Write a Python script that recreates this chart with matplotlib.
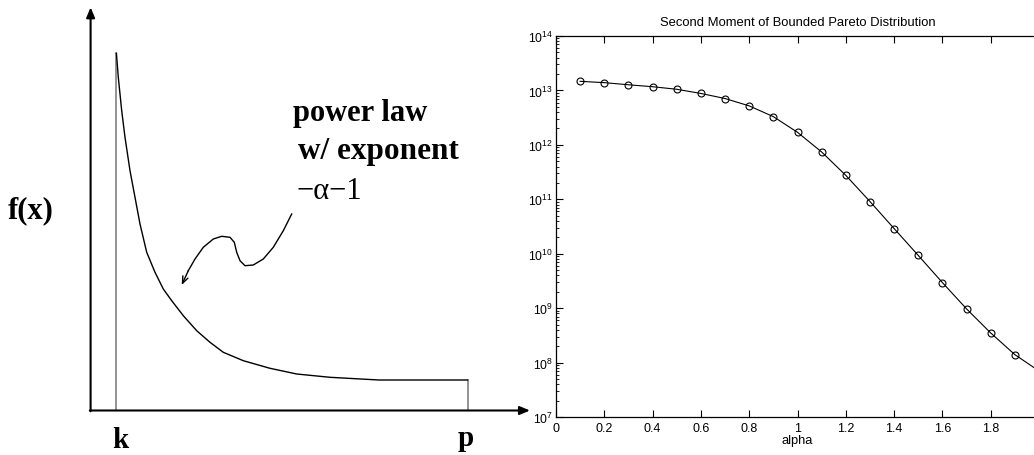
import numpy as np
import matplotlib
matplotlib.use('Agg')
import matplotlib.pyplot as plt
from matplotlib.ticker import FormatStrFormatter, LogLocator, NullFormatter

plt.rcParams['font.family'] = ['Liberation Sans', 'DejaVu Sans']

# ---- data: right panel (second moment vs alpha) ----
alpha = [0.1, 0.2, 0.3, 0.4, 0.5, 0.6, 0.7, 0.8, 0.9, 1.0,
         1.1, 1.2, 1.3, 1.4, 1.5, 1.6, 1.7, 1.8, 1.9, 2.0]
moment = [1.47e13, 1.39e13, 1.27e13, 1.17e13, 1.05e13, 8.8e12, 7.1e12,
          5.2e12, 3.3e12, 1.7e12, 7.4e11, 2.75e11, 9.1e10, 2.9e10,
          9.3e9, 2.95e9, 9.7e8, 3.5e8, 1.4e8, 7.0e7]
alpha_ticks = [0, 0.2, 0.4, 0.6, 0.8, 1.0, 1.2, 1.4, 1.6, 1.8]

# ---- data: left panel sketch (diagram units, y measured downward) ----
k_pos, p_pos = 116.4, 467.6
x_axis_y, y_axis_x = 411.5, 90.6
curve_x = [116.4, 118.3, 121.7, 125.0, 130.0, 135.0, 140.0, 146.7, 155.0,
           163.3, 171.7, 183.3, 196.7, 210.0, 223.3, 243.3, 270.0, 296.7,
           330.0, 378.8, 467.6]
curve_y = [54.3, 78.3, 111.7, 138.3, 171.7, 198.3, 225.0, 253.3, 273.3,
           290.0, 301.7, 316.7, 331.7, 343.3, 353.3, 361.7, 369.3, 375.0,
           378.3, 381.0, 381.0]
squiggle_x = [291.7, 283.3, 273.3, 263.3, 253.3, 245.0, 240.0, 236.7, 234.3,
              230.0, 221.7, 213.3, 203.3, 195.0, 188.3, 181.7]
squiggle_y = [215.0, 231.7, 248.3, 260.0, 266.0, 266.7, 261.7, 253.3, 243.3,
              238.3, 237.3, 240.0, 248.3, 260.0, 271.7, 286.0]

fig = plt.figure(figsize=(10.34, 4.56), dpi=100)

# ---------------- left: schematic of bounded Pareto density ----------------
axl = fig.add_axes([0, 0, 520 / 1034, 1])
axl.set_xlim(0, 520)
axl.set_ylim(456, 0)
axl.axis('off')

arrow = dict(arrowstyle='-|>,head_length=0.6,head_width=0.25', color='black',
             lw=1.5, shrinkA=0, shrinkB=0)
axl.annotate('', xy=(y_axis_x, 8.3), xytext=(y_axis_x, x_axis_y + 0.8),
             arrowprops=arrow, annotation_clip=False)
axl.annotate('', xy=(530, x_axis_y), xytext=(y_axis_x - 0.8, x_axis_y),
             arrowprops=arrow, annotation_clip=False)

axl.plot([k_pos, k_pos], [x_axis_y, curve_y[0]], color='#777777', lw=1.1)
axl.plot([p_pos, p_pos], [x_axis_y, curve_y[-1]], color='#777777', lw=1.1)
axl.plot(curve_x, curve_y, color='black', lw=1, solid_joinstyle='round')

axl.plot(squiggle_x[:-1], squiggle_y[:-1], color='black', lw=1,
         solid_joinstyle='round')
axl.annotate('', xy=(squiggle_x[-1], squiggle_y[-1]),
             xytext=(squiggle_x[-2], squiggle_y[-2]),
             arrowprops=dict(arrowstyle='->,head_length=0.5,head_width=0.2',
                             color='black', lw=1, shrinkA=0, shrinkB=0))

serif = ['Liberation Serif', 'DejaVu Serif']
axl.text(8, 218, 'f(x)', family=serif, weight='bold', size=22,
         ha='left', va='baseline')
axl.text(120, 448, 'k', family=serif, weight='bold', size=21,
         ha='center', va='baseline')
axl.text(465.5, 446, 'p', family=serif, weight='bold', size=21,
         ha='center', va='baseline')
axl.text(292.7, 120.7, 'power law', family=serif, weight='bold', size=22,
         ha='left', va='baseline')
axl.text(297.9, 159, 'w/ exponent', family=serif, weight='bold', size=22.5,
         ha='left', va='baseline')
axl.text(296, 199, '\u2212\u03b1\u22121', family=serif, size=22,
         ha='left', va='baseline')

# ---------------- right: second moment on log scale ----------------
ax = fig.add_axes([556 / 1034, 1 - 418 / 456, 483 / 1034, 381 / 456])
ax.semilogy(alpha, moment, 'k-o', lw=0.8, ms=5, mfc='none', mew=0.8)
ax.set_xlim(0, 2)
ax.set_ylim(1e7, 1e14)
ax.set_xticks(alpha_ticks)
ax.xaxis.set_major_formatter(FormatStrFormatter('%g'))
ax.yaxis.set_major_locator(LogLocator(base=10, numticks=20))
ax.yaxis.set_minor_locator(LogLocator(base=10, subs=np.arange(2, 10), numticks=20))
ax.yaxis.set_minor_formatter(NullFormatter())
ax.tick_params(which='both', direction='in', top=True, right=False)
ax.tick_params(axis='x', labelsize=9)
ax.tick_params(axis='y', labelsize=8.8, pad=2)
ax.tick_params(which='major', length=5, width=0.8)
ax.tick_params(which='minor', length=2.5, width=0.6)
for s in ax.spines.values():
    s.set_linewidth(0.9)

ax.set_title('Second Moment of Bounded Pareto Distribution', fontsize=9.4, pad=8)
ax.set_xlabel('alpha', fontsize=9.3, labelpad=0)

fig.savefig('out.png', dpi=100)
